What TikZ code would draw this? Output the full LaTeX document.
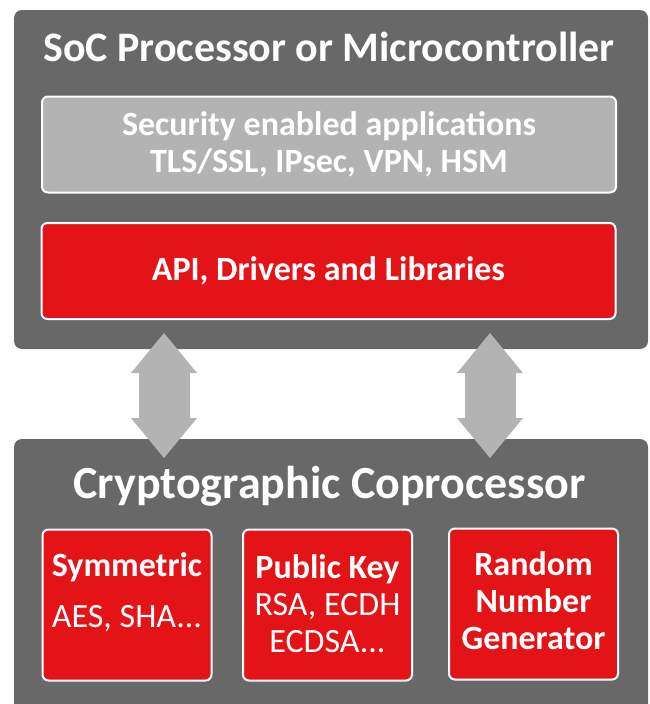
\documentclass[tikz,border=0pt]{standalone}
\usepackage{fontspec}
\setmainfont{Carlito}
\usetikzlibrary{arrows.meta, positioning}
\definecolor{socgrey}{RGB}{104,104,104}
\definecolor{appgrey}{RGB}{179,179,179}
\definecolor{socred}{RGB}{227,19,24}

\begin{document}
\begin{tikzpicture}[x=1pt, y=-1pt,
  outerbox/.style={fill=socgrey, rounded corners=8pt, minimum width=634pt, inner sep=0pt},
  layerbox/.style={draw=white, line width=2pt, rounded corners=6pt, minimum width=574pt, minimum height=96pt,
    text=white, align=center, inner sep=0pt, font=\bfseries\fontsize{34}{37}\selectfont},
  unitbox/.style={draw=white, line width=2pt, fill=socred, rounded corners=6pt, minimum width=169pt, minimum height=151pt},
  unittext/.style={text=white, align=center, inner sep=0pt, font=\fontsize{34}{37}\selectfont},
  heading/.style={text=white, inner sep=0pt, font=\bfseries\fontsize{42}{50}\selectfont},
  bus/.style={draw=appgrey, line width=51pt, {Triangle[length=40pt, width=66pt, line width=0pt]}-{Triangle[length=40pt, width=66pt, line width=0pt]}}
]
  \useasboundingbox (0,0) rectangle (650,704);

  % host side
  \node[outerbox, minimum height=339pt] (soc) at (331,179.5) {};
  \node[heading] (soctitle) at (329,47) {SoC Processor or Microcontroller};
  \node[layerbox, fill=appgrey] (apps) at (329,144.5) {Security enabled applications\\TLS/SSL, IPsec, VPN, HSM};
  \node[layerbox, fill=socred] (api) at (328.5,271) {API, Drivers and Libraries};

  % coprocessor side
  \node[outerbox, minimum height=273pt] (copro) at (331,575.5) {};
  \node[heading, font=\bfseries\fontsize{46}{50}\selectfont] (coprotitle) at (329.5,486) {Cryptographic Coprocessor};
  \node[unitbox] (sym) at (127,605) {};
  \node[unitbox] (pk) at (327.5,605) {};
  \node[unitbox] (rng) at (533.5,604) {};
  \node[unittext] at ([yshift=13pt]sym.center) {\textbf{Symmetric}\\[14pt]AES, SHA...};
  \node[unittext] at ([yshift=1pt]pk.center) {\textbf{Public Key}\\RSA, ECDH\\ECDSA...};
  \node[unittext, font=\bfseries\fontsize{34}{37}\selectfont] at ([yshift=3pt]rng.center) {Random\\Number\\Generator};

  % buses
  \coordinate (bus1 top) at (164,333);
  \coordinate (bus1 bottom) at (164,458);
  \coordinate (bus2 top) at (490,333);
  \coordinate (bus2 bottom) at (490,458);
  \draw[bus] (bus1 top) -- (bus1 bottom);
  \draw[bus] (bus2 top) -- (bus2 bottom);
\end{tikzpicture}
\end{document}
